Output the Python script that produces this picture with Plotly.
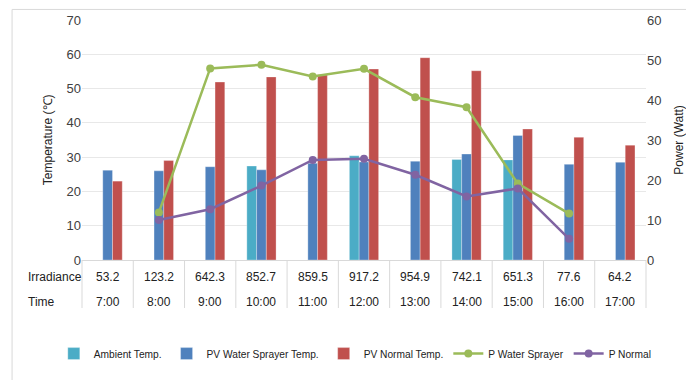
import plotly.graph_objects as go

times = ["7:00", "8:00", "9:00", "10:00", "11:00", "12:00", "13:00", "14:00", "15:00", "16:00", "17:00"]
irradiance = ["53.2", "123.2", "642.3", "852.7", "859.5", "917.2", "954.9", "742.1", "651.3", "77.6", "64.2"]
ambient_temp = [None, None, None, 27.4, None, 30.4, None, 29.3, 29.2, None, None]
pv_sprayer_temp = [26.2, 26.0, 27.2, 26.3, 28.2, 28.6, 28.8, 30.9, 36.3, 27.9, 28.5]
pv_normal_temp = [23.0, 29.0, 51.9, 53.4, 54.0, 55.7, 59.0, 55.2, 38.2, 35.8, 33.5]
p_sprayer = [None, 11.9, 47.9, 48.8, 45.9, 47.8, 40.7, 38.2, 19.1, 11.6, None]
p_normal = [None, 10.0, 12.7, 18.6, 25.0, 25.3, 21.3, 15.9, 17.9, 5.3, None]

FONT = "Liberation Sans, Arial, sans-serif"
TXT = "#404040"
DARK = "#222222"

fig = go.Figure()
bar_line = dict(color="rgba(255,255,255,0.6)", width=0.5)
fig.add_trace(go.Bar(x=times, y=ambient_temp, name="Ambient Temp.", marker=dict(color="#4BACC6", line=bar_line)))
fig.add_trace(go.Bar(x=times, y=pv_sprayer_temp, name="PV Water Sprayer Temp.", marker=dict(color="#4F81BD", line=bar_line)))
fig.add_trace(go.Bar(x=times, y=pv_normal_temp, name="PV Normal Temp.", marker=dict(color="#C0504D", line=bar_line)))
fig.add_trace(go.Scatter(x=times, y=p_sprayer, name="P Water Sprayer", yaxis="y2", mode="lines+markers",
                         line=dict(color="#9BBB59", width=2.5), marker=dict(size=8, color="#9BBB59")))
fig.add_trace(go.Scatter(x=times, y=p_normal, name="P Normal", yaxis="y2", mode="lines+markers",
                         line=dict(color="#8064A2", width=2.5), marker=dict(size=8, color="#8064A2")))

annotations = []
for t, irr in zip(times, irradiance):
    annotations.append(dict(x=t, y=-0.072, xref="x", yref="paper", text=irr, showarrow=False,
                            font=dict(size=12, color=DARK, family=FONT), yanchor="middle"))
    annotations.append(dict(x=t, y=-0.173, xref="x", yref="paper", text=t, showarrow=False,
                            font=dict(size=12, color=DARK, family=FONT), yanchor="middle"))
annotations.append(dict(x=-0.1, y=-0.072, xref="paper", yref="paper", text="Irradiance", showarrow=False,
                        xanchor="left", yanchor="middle", font=dict(size=12, color=DARK, family=FONT)))
annotations.append(dict(x=-0.1, y=-0.173, xref="paper", yref="paper", text="Time", showarrow=False,
                        xanchor="left", yanchor="middle", font=dict(size=12, color=DARK, family=FONT)))
annotations.append(dict(x=-0.060, y=0.5, xref="paper", yref="paper", text="Temperature (℃)", showarrow=False,
                        textangle=-90, xanchor="center", yanchor="middle", font=dict(size=12, color=DARK, family=FONT)))
annotations.append(dict(x=1.058, y=0.5, xref="paper", yref="paper", text="Power (Watt)", showarrow=False,
                        textangle=-90, xanchor="center", yanchor="middle", font=dict(size=12, color=DARK, family=FONT)))

shapes = [dict(type="rect", xref="paper", yref="paper", x0=-0.124, x1=1.1, y0=-0.6, y1=1.044,
               line=dict(color="#d9d9d9", width=1), fillcolor="rgba(0,0,0,0)", layer="below")]
n = len(times)
for i in range(n + 1):
    shapes.append(dict(type="line", xref="paper", yref="paper", x0=i / n, x1=i / n, y0=0, y1=-0.2,
                       line=dict(color="#d9d9d9", width=1)))

fig.update_layout(
    width=686, height=380,
    margin=dict(l=82, r=40, t=20, b=111),
    paper_bgcolor="white", plot_bgcolor="white",
    barmode="group", bargap=0.43, bargroupgap=0,
    font=dict(family=FONT, size=12, color=TXT),
    xaxis=dict(type="category", showticklabels=False, showline=True, linecolor="#d9d9d9",
               showgrid=False, ticks="", range=[-0.5, n - 0.5]),
    yaxis=dict(range=[0, 70], dtick=10, showgrid=True, gridcolor="#e8e8e8", zeroline=False,
               ticks="", showline=False, tickfont=dict(size=13, color=TXT), automargin=False),
    yaxis2=dict(range=[0, 60], dtick=10, overlaying="y", side="right", showgrid=False, zeroline=False,
                ticks="", showline=False, tickfont=dict(size=13, color=TXT), automargin=False),
    legend=dict(orientation="h", x=-0.05, xanchor="left", y=-0.39, yanchor="middle",
                font=dict(size=10.2, color=DARK), traceorder="normal", itemwidth=30, tracegroupgap=0),
    annotations=annotations,
    shapes=shapes,
)

fig.write_html("out.html", config={"displayModeBar": False},
               post_script="document.body.style.margin='0';")
